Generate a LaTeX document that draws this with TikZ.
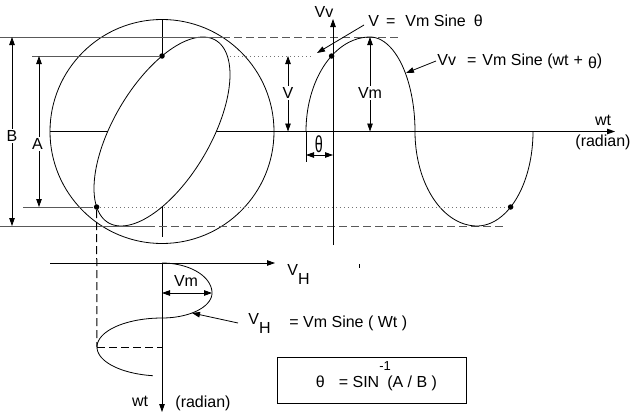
\documentclass[tikz,border=0pt]{standalone}
\usepackage{graphicx}
\usepackage{fontspec}
\setmainfont{Liberation Sans}
\usetikzlibrary{arrows.meta}

\newcommand{\vsubh}{V\raisebox{-9pt}{H}}

\begin{document}
\begin{tikzpicture}[x=1pt,y=-1pt,line width=0.8pt,
        every node/.style={font=\fontsize{16}{19}\selectfont,inner sep=1pt},
        pointer/.style={-{Triangle[length=8pt,width=5.5pt]}},
        dimline/.style={{Triangle[length=8pt,width=5.5pt]}-{Triangle[length=8pt,width=5.5pt]}},
        ext/.style={draw=black!65,line width=1pt},
        dashline/.style={draw=black!65,line width=1pt,dash pattern=on 8pt off 4pt},
        dotline/.style={draw=black!55,dash pattern=on 1pt off 3pt},
        spot/.style={circle,fill,inner sep=0pt,minimum size=5.5pt},
        lab/.style={fill=white,inner sep=1pt}]
    \useasboundingbox (0,0) rectangle (632,415);

    % circle and lissajous figure
    \coordinate (c) at (162,131.5);
    \draw (c) circle[radius=112];
    \draw plot[domain=0:360,samples=121,smooth] ({162+68*sin(\x)},{131.5-94.5*sin(\x+53)});
    \node[spot] (p1) at (162,56) {};
    \node[spot] (p2) at (96.6,207) {};

    \coordinate (ctop) at (162,19.5);
    \coordinate (cleft) at (50,131.5);
    \coordinate (el1) at (107.7,131.5);
    \coordinate (el2) at (216.3,131.5);
    \coordinate (elbot) at (162,207);
    \coordinate (cbot) at (162,237);
    \draw (ctop) -- (p1.center);
    \draw (cleft) -- (el1);
    \draw (elbot) -- (cbot);

    % extension lines
    \coordinate (btl) at (0,37);
    \coordinate (btm) at (222,37);
    \coordinate (btr) at (398,37);
    \coordinate (bbl) at (0,226);
    \coordinate (bbm) at (147,226);
    \coordinate (bbr) at (503,226);
    \coordinate (atl) at (32,56);
    \coordinate (atm) at (230,56);
    \coordinate (atr) at (313,56);
    \coordinate (abl) at (23,207);
    \draw[ext] (btl) -- (btm);
    \draw[dashline] (btm) -- (btr);
    \draw[ext] (bbl) -- (bbm);
    \draw[dashline] (bbm) -- (bbr);
    \draw[ext] (atl) -- (p1);
    \draw[dotline] (atm) -- (atr);
    \draw[ext] (abl) -- (p2);

    % sine wave
    \coordinate (wtend) at (615,131.5);
    \coordinate (vvbot) at (333,245);
    \coordinate (vvtop) at (333,19);
    \draw[pointer] (el2) -- (wtend);
    \draw[pointer] (vvbot) -- (vvtop);
    \node (vv) at (324,12) {Vv};
    \node (wt) at (603,120) {wt};
    \node (rad) at (603,142) {(radian)};
    \draw plot[domain=180:90,smooth] ({370+64*cos(\x)},{131.5-94.5*sin(\x)})
        -- plot[domain=90:0,smooth] ({370+45*cos(\x)},{131.5-94.5*sin(\x)})
        -- plot[domain=180:270,smooth] ({477+62*cos(\x)},{131.5-94.5*sin(\x)})
        -- plot[domain=270:360,smooth] ({477+56*cos(\x)},{131.5-94.5*sin(\x)});
    \node[spot] (s1) at (331.6,56) {};
    \node[spot] (s2) at (510.6,207) {};
    \draw[dotline] (p2) -- (s2);

    % dimensions
    \coordinate (b1) at (12,37);
    \coordinate (b2) at (12,226);
    \coordinate (a1) at (39,56);
    \coordinate (a2) at (39,207);
    \coordinate (v1) at (288,56);
    \coordinate (v2) at (288,131.5);
    \coordinate (m1) at (370,37);
    \coordinate (m2) at (370,131.5);
    \draw[dimline] (b1) -- (b2);
    \draw[dimline] (a1) -- (a2);
    \draw[dimline] (v1) -- (v2);
    \draw[dimline] (m1) -- (m2);
    \node[lab] (B) at (12,136) {B};
    \node[lab] (A) at (37.5,144) {A};
    \node[lab] (V) at (288,93) {V};
    \node[lab] (Vm) at (370,93) {Vm};

    \coordinate (th0) at (306,131.5);
    \coordinate (th1) at (306,162);
    \coordinate (tha) at (306,155);
    \coordinate (thb) at (333,155);
    \draw (th0) -- (th1);
    \draw[dimline] (tha) -- (thb);
    \node (thlab) at (319,144) {\scalebox{0.9}[1.45]{θ}};

    % labels of the sine
    \node[anchor=west] (vlab) at (367,21) {V\hspace{7pt}=\hspace{10pt}Vm Sine\hspace{8pt}θ};
    \coordinate (vtip) at (317,53);
    \draw[pointer] ([shift={(-3,4)}]vlab.west) -- (vtip);
    \node[anchor=west] (vvlab) at (436,61) {Vv\hspace{11pt}=\hspace{6pt}Vm Sine (wt\hspace{5pt}+\hspace{5pt}\raisebox{-3pt}{θ})};
    \coordinate (vvtip) at (406,73);
    \draw[pointer] (vvlab.west) -- (vvtip);

    % horizontal deflection
    \coordinate (hl) at (50,263);
    \coordinate (hr) at (275,263);
    \coordinate (wtt) at (162,263);
    \coordinate (wtb) at (162,412);
    \draw[pointer] (hl) -- (hr);
    \draw[pointer] (wtt) -- (wtb);
    \node[anchor=base west] (vhax) at (286,275) {\vsubh};
    \node (wtl) at (140,401) {wt};
    \node (radl) at (203,403) {(radian)};
    \coordinate (tk1) at (359,264);
    \coordinate (tk2) at (359,268);
    \draw[line width=0.6pt] (tk1) -- (tk2);

    \draw plot[domain=90:0,smooth] ({162+50*cos(\x)},{293-30*sin(\x)})
        -- plot[domain=0:-90,smooth] ({162+50*cos(\x)},{293-25*sin(\x)})
        -- plot[domain=90:180,smooth] ({162+65*cos(\x)},{347-29*sin(\x)})
        -- plot[domain=180:262,smooth] ({162+65*cos(\x)},{347-29*sin(\x)});
    \coordinate (hmin) at (97,347);
    \coordinate (hax) at (162,347);
    \draw[dashline,draw=black] (p2) -- (hmin);
    \draw[dashline,draw=black] (hmin) -- (hax);

    \coordinate (h1) at (162,293);
    \coordinate (h2) at (212,293);
    \draw[dimline] (h1) -- (h2);
    \node (hvm) at (186,281) {Vm};

    \node[anchor=base west] (vheqs) at (247,324) {\vsubh};
    \node[anchor=base west] (vheq) at (288,327) {= Vm Sine ( Wt )};
    \coordinate (vhtip) at (192,313);
    \draw[pointer] ([xshift=-9pt]vheqs.west) -- (vhtip);

    % formula
    \node[draw,minimum width=189pt,minimum height=46pt,inner sep=0pt,
          text height=16pt,text depth=2pt] (form) at (371.5,380)
        {\hspace*{10pt}θ\hspace{14pt}= SIN\rlap{\smash{\raisebox{17pt}{\fontsize{13}{15}\selectfont -1}}}\hspace{8pt}(A / B )};
\end{tikzpicture}
\end{document}
